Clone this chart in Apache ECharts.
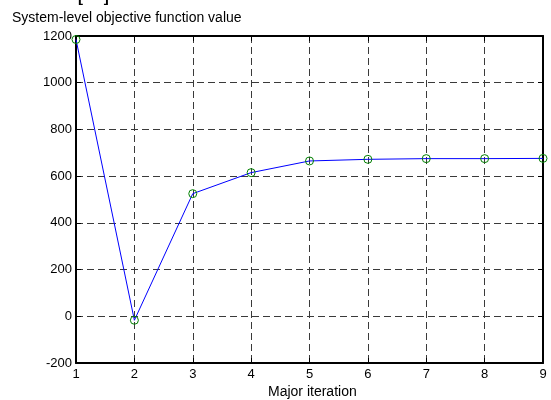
<!DOCTYPE html>
<html>
<head>
<meta charset="utf-8">
<script src="https://cdn.jsdelivr.net/npm/echarts@6/dist/echarts.min.js"></script>
<style>
html,body{margin:0;padding:0;background:#fff;}
#c{width:551px;height:400px;}
</style>
</head>
<body>
<div id="c"></div>
<script>
var iterations = [1, 2, 3, 4, 5, 6, 7, 8, 9];
var objectiveValues = [1185, -17, 525, 615, 665, 672, 675, 675, 676];
var yTicks = [-200, 0, 200, 400, 600, 800, 1000, 1200];
var yLabel = 'System-level objective function value';
var xLabel = 'Major iteration';

var FONT = 'Liberation Sans, Arial, sans-serif';
var chart = echarts.init(document.getElementById('c'), null, {renderer: 'canvas'});
var gridLine = {show: true, lineStyle: {color: '#3a3a3a', width: 1, type: [7, 4]}};
var axisLine = {show: true, onZero: false, lineStyle: {color: '#000', width: 2}};
var tick = {show: true, inside: true, length: 5, lineStyle: {color: '#000', width: 1}};
var option = {
  backgroundColor: '#fff',
  animation: false,
  grid: {left: 76, right: 8, top: 36, bottom: 37, show: false},
  graphic: [
    {type: 'text', left: 12, top: 11, style: {text: yLabel, fontFamily: FONT, fontSize: 14, fill: '#000'}},
    {type: 'text', left: 78, top: -10, style: {text: '[     ]', fontFamily: FONT, fontSize: 15, fontWeight: 'bold', fill: '#000'}},
    {type: 'text', left: 268, top: 385, style: {text: xLabel, fontFamily: FONT, fontSize: 14, fill: '#000'}}
  ],
  xAxis: [
    {type: 'value', min: 1, max: 9, interval: 1, position: 'bottom',
     axisLine: axisLine, axisTick: tick,
     axisLabel: {show: true, margin: 5, fontFamily: FONT, fontSize: 13, color: '#000'},
     splitLine: gridLine},
    {type: 'value', min: 1, max: 9, interval: 1, position: 'top',
     axisLine: axisLine, axisTick: tick,
     axisLabel: {show: false}, splitLine: {show: false}}
  ],
  yAxis: [
    {type: 'value', min: -200, max: 1200, interval: 200, position: 'left',
     axisLine: axisLine, axisTick: tick,
     axisLabel: {show: true, margin: 4, fontFamily: FONT, fontSize: 13, color: '#000',
       formatter: function (v) { return yTicks.indexOf(v) >= 0 ? String(v) : ''; }},
     splitLine: gridLine},
    {type: 'value', min: -200, max: 1200, interval: 200, position: 'right',
     axisLine: axisLine, axisTick: tick,
     axisLabel: {show: false}, splitLine: {show: false}}
  ],
  series: [{
    type: 'line',
    data: iterations.map(function (x, i) { return [x, objectiveValues[i]]; }),
    lineStyle: {color: '#0000ff', width: 1},
    symbol: 'circle', symbolSize: 8, showSymbol: true,
    itemStyle: {color: 'rgba(0,0,0,0)', borderColor: '#008000', borderWidth: 1},
    z: 5
  }]
};
chart.setOption(option);
</script>
</body>
</html>
